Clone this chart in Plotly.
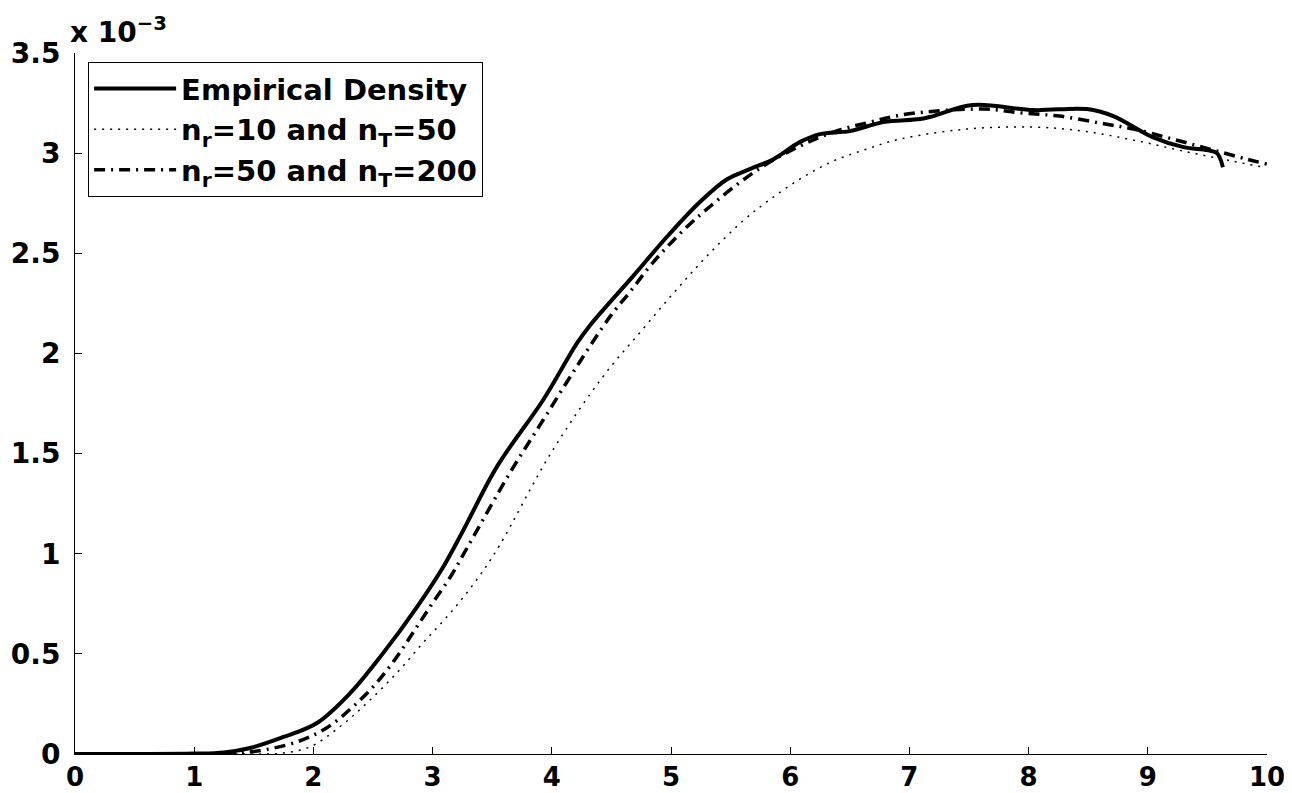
import plotly.graph_objects as go

# values in units of 1e-3
emp_x = [0, 0.5, 1.0, 1.25, 1.47, 1.75, 2.03, 2.31, 2.58, 2.87, 3.09, 3.26, 3.54, 3.93, 4.21, 4.32,
         4.68, 4.97, 5.24, 5.47, 5.66, 5.86, 6.08, 6.25, 6.5, 6.78, 7.09, 7.2, 7.53, 8.04, 8.49, 8.71,
         9.04, 9.3, 9.5, 9.58, 9.63]
emp_y = [0, 0, 0.002, 0.008, 0.03, 0.085, 0.155, 0.305, 0.5, 0.735, 0.935, 1.12, 1.435, 1.77, 2.05, 2.14,
         2.385, 2.585, 2.755, 2.87, 2.92, 2.97, 3.055, 3.095, 3.11, 3.155, 3.17, 3.185, 3.24, 3.215, 3.22, 3.185,
         3.08, 3.03, 3.015, 3.0, 2.93]

r50_x = [0, 1.0, 1.25, 1.5, 1.86, 2.11, 2.33, 2.53, 2.7, 2.84, 2.99, 3.15, 3.29, 3.65, 3.93, 4.21, 4.49,
         4.66, 4.85, 5.13, 5.35, 5.58, 5.8, 6.08, 6.36, 6.67, 6.98, 7.62, 7.95, 8.26, 8.6, 8.88, 9.21, 9.52,
         9.83, 10.0]
r50_y = [0, 0.0, 0.003, 0.012, 0.06, 0.13, 0.235, 0.355, 0.485, 0.61, 0.745, 0.885, 1.03, 1.405, 1.67, 1.935, 2.185,
         2.31, 2.455, 2.63, 2.745, 2.855, 2.945, 3.035, 3.105, 3.155, 3.195, 3.22, 3.2, 3.185, 3.15, 3.12, 3.07, 3.02,
         2.97, 2.945]

r10_x = [0, 1.5, 1.72, 1.97, 2.22, 2.45, 2.7, 2.92, 3.15, 3.37, 3.56, 3.99, 4.43, 4.74, 5.02, 5.3, 5.6,
         5.8, 6.08, 6.36, 6.64, 6.92, 7.48, 8.04, 8.46, 8.88, 9.3, 9.71, 9.97]
r10_y = [0, 0.0, 0.003, 0.035, 0.135, 0.255, 0.405, 0.555, 0.705, 0.87, 1.04, 1.5, 1.885, 2.105, 2.3, 2.485, 2.66,
         2.755, 2.87, 2.96, 3.02, 3.07, 3.12, 3.13, 3.11, 3.065, 3.01, 2.96, 2.93]

x_ticks = [0, 1, 2, 3, 4, 5, 6, 7, 8, 9, 10]
y_ticks = [0, 0.5, 1, 1.5, 2, 2.5, 3, 3.5]
y_tick_labels = ["0", "0.5", "1", "1.5", "2", "2.5", "3", "3.5"]

FONT = "DejaVu Sans"

fig = go.Figure()
fig.add_trace(go.Scatter(x=emp_x, y=emp_y, mode="lines", name="<b>Empirical Density</b>",
                         line=dict(color="black", width=4, shape="spline", smoothing=1.0)))
fig.add_trace(go.Scatter(x=r10_x, y=r10_y, mode="lines", name="<b>n<sub>r</sub>=10 and n<sub>T</sub>=50</b>",
                         line=dict(color="black", width=1.5, dash="2px,6px", shape="spline", smoothing=1.0)))
fig.add_trace(go.Scatter(x=r50_x, y=r50_y, mode="lines", name="<b>n<sub>r</sub>=50 and n<sub>T</sub>=200</b>",
                         line=dict(color="black", width=3.5, dash="11px,6px,2px,6px", shape="spline", smoothing=1.0)))

fig.update_layout(
    width=1284, height=785,
    margin=dict(l=67, r=25, t=45, b=39, autoexpand=False),
    plot_bgcolor="white", paper_bgcolor="white",
    font=dict(family=FONT, color="black", size=28),
    showlegend=True,
    legend=dict(x=0.011, y=0.987, xanchor="left", yanchor="top",
                bordercolor="black", borderwidth=1, bgcolor="white",
                font=dict(family=FONT, size=29, color="black"),
                tracegroupgap=0, itemwidth=82),
    xaxis=dict(range=[0, 10], tickvals=x_ticks, ticktext=[f"<b>{v}</b>" for v in x_ticks],
               ticks="inside", ticklen=7, tickcolor="black", showline=True, linecolor="black",
               linewidth=1, showgrid=False, zeroline=False, tickfont=dict(size=26), automargin=False),
    yaxis=dict(range=[0, 3.5], tickvals=y_ticks, ticktext=[f"<b>{t}</b>" for t in y_tick_labels],
               ticks="inside", ticklen=7, tickcolor="black", showline=True, linecolor="black",
               linewidth=1, showgrid=False, zeroline=False, tickfont=dict(size=28), automargin=False,
               ticklabelstandoff=8),
    annotations=[dict(text="<b>x 10<sup>−3</sup></b>", xref="paper", yref="paper", x=-0.006, y=1.0,
                      xanchor="left", yanchor="bottom", yshift=2, showarrow=False,
                      font=dict(size=28, family=FONT))],
)

fig.write_html("out.html")
